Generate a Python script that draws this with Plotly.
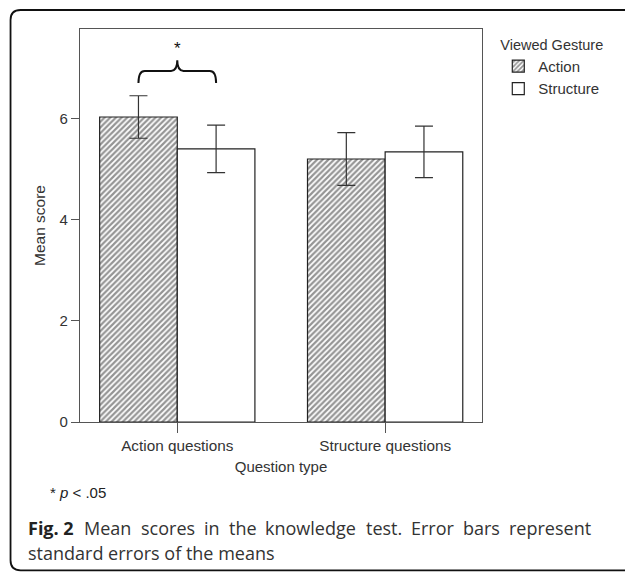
import plotly.graph_objects as go

# ---- data ----
categories = ["Action questions", "Structure questions"]
series_names = ["Action", "Structure"]
action_means = [6.03, 5.20]
structure_means = [5.40, 5.34]
action_se = [0.42, 0.52]
structure_se = [0.47, 0.51]
y_ticks = [0, 2, 4, 6]

caption_line1 = ["Fig. 2", "Mean", "scores", "in", "the", "knowledge",
                 "test.", "Error", "bars", "represent"]
caption_line2 = "standard errors of the means"

W, H = 625, 573
L, R, T, B = 79.5, 481.7, 29, 422.5   # plot area in px


def px(x):
    return (x - L) / (R - L)


def py(y):
    return (B - y) / (B - T)


FONT = "Liberation Sans"
CAP_FONT = "Open Sans"
CAP_SIZE = 18

# approximate Open Sans advance widths (em) used to justify the first caption line
_W = dict(a=.556, b=.613, c=.479, d=.613, e=.561, f=.344, g=.546, h=.613, i=.258,
          k=.527, l=.258, m=.928, n=.613, o=.602, p=.613, r=.411, s=.479, t=.352,
          u=.613, w=.797, E=.556, M=.907, F=.575)
_W["."] = .268
_W[" "] = .26
_W["2"] = .572


def text_w(s, size, bold=False):
    k = 1.07 if bold else 1.0
    return sum(_W.get(ch, .56) for ch in s) * size * k


xpos = list(range(len(categories)))
bargap = 0.253
bw = (1 - bargap) / 2

fig = go.Figure()
fig.add_trace(go.Bar(
    name=series_names[0], x=xpos, y=action_means,
    error_y=dict(type="data", array=action_se, color="#333", thickness=1.2, width=9),
    marker=dict(color="white", line=dict(color="#222", width=1.2),
                pattern=dict(shape="/", size=4, solidity=0.55, fgcolor="#2a2a2a", bgcolor="white")),
))
fig.add_trace(go.Bar(
    name=series_names[1], x=xpos, y=structure_means,
    error_y=dict(type="data", array=structure_se, color="#333", thickness=1.2, width=9),
    marker=dict(color="white", line=dict(color="#222", width=1.2)),
))

# significance bracket between the two bars of the first category
x1, x2 = xpos[0] - bw / 2, xpos[0] + bw / 2
xm = (x1 + x2) / 2
y_end, y_top, y_peak = 6.70, 6.94, 7.15
dx = 0.03
path = (f"M {x1},{y_end} Q {x1},{y_top} {x1+dx},{y_top} L {xm-dx},{y_top} "
        f"Q {xm},{y_top} {xm},{y_peak} Q {xm},{y_top} {xm+dx},{y_top} "
        f"L {x2-dx},{y_top} Q {x2},{y_top} {x2},{y_end}")
shapes = [dict(type="path", xref="x", yref="y", path=path,
               line=dict(color="#111", width=2))]

# outer rounded frame (right side runs off the page)
fl, ft, fr, fb = 10, 10, 680, 571
r = 10
rx, ry = r / (R - L), r / (B - T)
frame = (f"M {px(fl)},{py(fb)+ry} "
         f"L {px(fl)},{py(ft)-ry} Q {px(fl)},{py(ft)} {px(fl)+rx},{py(ft)} "
         f"L {px(fr)},{py(ft)} L {px(fr)},{py(fb)} "
         f"L {px(fl)+rx},{py(fb)} Q {px(fl)},{py(fb)} {px(fl)},{py(fb)+ry} Z")
shapes.append(dict(type="path", xref="paper", yref="paper", path=frame,
                   line=dict(color="#111", width=1.8), layer="below"))

annotations = [
    dict(x=xm, y=7.39, xref="x", yref="y", text="*", showarrow=False,
         font=dict(family=FONT, size=17, color="#111")),
    dict(x=px(47), y=py(493), xref="paper", yref="paper", xanchor="left", yanchor="middle",
         text="* <i>p</i> &lt; .05", showarrow=False,
         font=dict(family=FONT, size=15, color="#222")),
    dict(x=px(25), y=py(554), xref="paper", yref="paper", xanchor="left", yanchor="middle",
         text=caption_line2, showarrow=False,
         font=dict(family=CAP_FONT, size=CAP_SIZE, color="#333")),
]

# justified first caption line: one annotation per word
line_left, line_right = 25, 589
widths = [text_w(w, CAP_SIZE, bold=(i == 0)) for i, w in enumerate(caption_line1)]
gap = (line_right - line_left - sum(widths)) / (len(caption_line1) - 1)
cx = line_left
for i, (w, ww) in enumerate(zip(caption_line1, widths)):
    txt = f"<b>{w}</b>" if i == 0 else w
    annotations.append(dict(x=px(cx), y=py(529), xref="paper", yref="paper",
                            xanchor="left", yanchor="middle", text=txt, showarrow=False,
                            font=dict(family=CAP_FONT, size=CAP_SIZE,
                                      color="#222" if i == 0 else "#333")))
    cx += ww + gap

fig.update_layout(
    width=W, height=H,
    margin=dict(l=L, r=W - R, t=T, b=H - B, pad=0),
    paper_bgcolor="white", plot_bgcolor="white",
    barmode="group", bargap=bargap, bargroupgap=0,
    font=dict(family=FONT, size=15, color="#333"),
    shapes=shapes, annotations=annotations,
    legend=dict(x=px(498), y=py(31), xanchor="left", yanchor="top",
                title=dict(text="Viewed Gesture", font=dict(family=FONT, size=14.5, color="#333")),
                font=dict(family=FONT, size=15, color="#333"),
                itemwidth=30, tracegroupgap=0, bgcolor="rgba(0,0,0,0)"),
    showlegend=True,
)
fig.update_xaxes(
    range=[-0.468, 1.466], tickvals=xpos, ticktext=categories,
    showline=True, linecolor="#555", linewidth=1.2, mirror=True,
    ticks="outside", ticklen=10, tickcolor="#555", tickwidth=1.2,
    showgrid=False, zeroline=False, tickfont=dict(size=15.3),
    title=dict(text="Question type", font=dict(family=FONT, size=15, color="#333"), standoff=8),
)
fig.update_yaxes(
    range=[0, 7.77], tickvals=y_ticks,
    showline=True, linecolor="#555", linewidth=1.2, mirror=True,
    ticks="outside", ticklen=8, tickcolor="#555", tickwidth=1.2,
    showgrid=False, zeroline=False,
    title=dict(text="Mean score", font=dict(family=FONT, size=15.5, color="#333"), standoff=10),
)

fig.write_html("out.html")
